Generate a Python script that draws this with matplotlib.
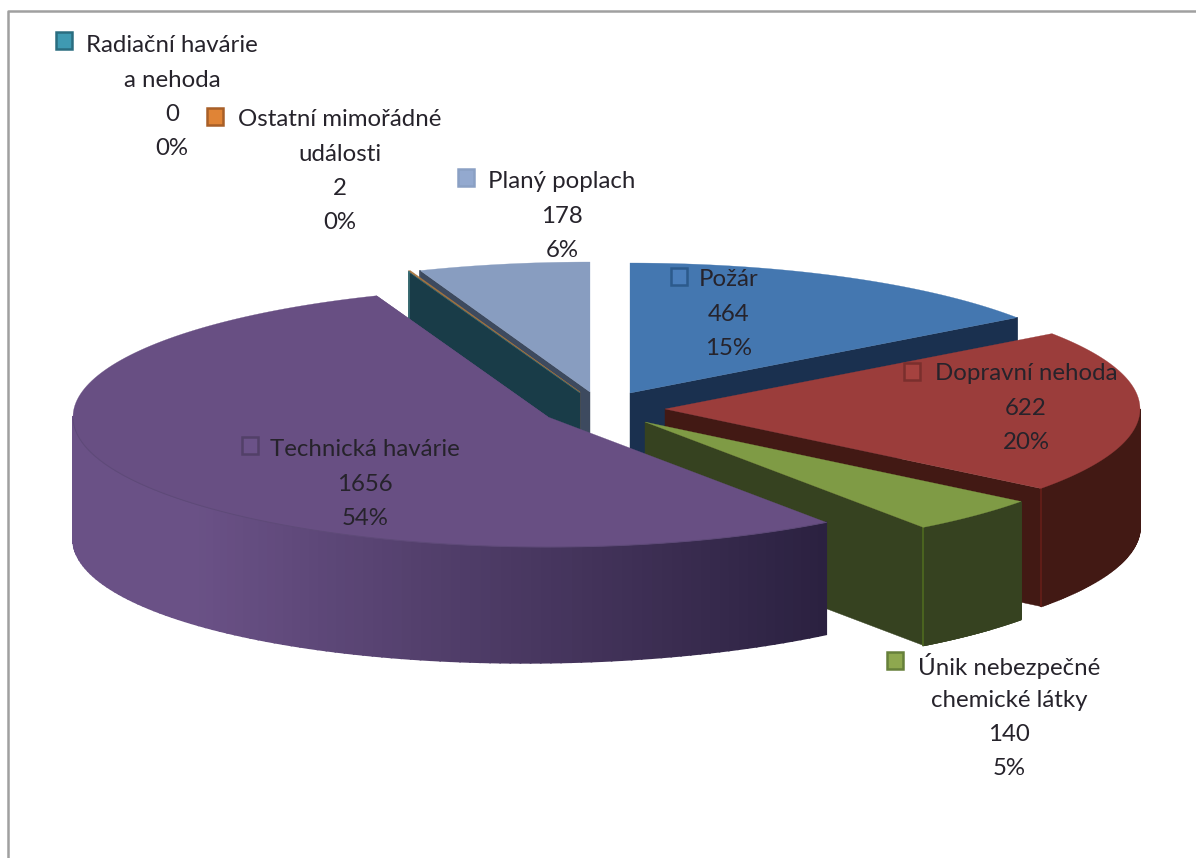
import numpy as np
import matplotlib
matplotlib.use('Agg')
import matplotlib.pyplot as plt
from matplotlib.colors import to_rgb
from matplotlib.patches import Rectangle

# data
names = ['Požár', 'Dopravní nehoda', 'Únik nebezpečné\nchemické látky', 'Technická havárie',
         'Radiační havárie\na nehoda', 'Ostatní mimořádné\nudálosti', 'Planý poplach']
values = [464, 622, 140, 1656, 0, 2, 178]

# slice styles, same order as values
top_colors = ['#4477b0', '#9b3d3b', '#7f9b45', '#684f83', '#3c93a8', '#a8763f', '#889dc0']
wall_colors = ['#1a304f', '#421914', '#364220', '#684f83', '#193c48', '#9a6a3a', '#3d4a5f']
seam_colors = ['#1a304f', '#651e18', '#4f6a1f', '#5a4672', '#3a7078', '#9a6a3a', '#3d4a5f']
key_colors = ['#4a7ebb', '#a5423f', '#8ea84f', '#6b5288', '#3f9ab2', '#e08436', '#93a9cf']
key_edges = ['#2c5a8c', '#7a2f2d', '#66803a', '#524068', '#2a6d80', '#a85f28', '#8aa0c4']
apex_x = [630, 665, 645, 548, 580, 580, 590]
apex_y = [393, 409, 422, 417, 393, 392, 392]
key_x = [671, 904, 887, 242, 56, 207, 458]
key_y = [268, 363, 652, 437, 32, 108, 169]
label_x = [729, 1026, 1009, 365, 172, 340, 562]
label_y = [280, 374, 666, 450, 46, 120, 182]

# painter's order, the back slices first
draw_order = [6, 5, 4, 0, 1, 2, 3]
# these show the cut face of their first edge, the others of their last one
first_edge = [4, 5, 6]

RX, RY, DEPTH = 475, 130, 118
LINE_STEP = 34.2
PURPLE_LEFT, PURPLE_RIGHT = to_rgb('#6a5186'), to_rgb('#2b2140')

plt.rcParams['font.family'] = ['Lato', 'DejaVu Sans']
fig = plt.figure(figsize=(11.96, 8.58), dpi=100)
ax = fig.add_axes([0, 0, 1, 1])
ax.set_xlim(0, 1196)
ax.set_ylim(858, 0)
ax.axis('off')

# chart frame, only the top and the left side show
ax.plot([8, 8, 1196], [858, 11, 11], color='#a0a0a0', lw=1.8, zorder=1)

total = sum(values)
ends = 90 - 360 * np.cumsum(values) / total
starts = np.r_[90, ends[:-1]]


def arc(i, n=160):
    t = np.radians(np.linspace(starts[i], ends[i], n))
    return apex_x[i] + RX * np.cos(t), apex_y[i] - RY * np.sin(t)


def purple_depth(x):
    # the big slice gets a bit shallower towards its right tip
    return 122 - (x - 72) * 10 / 755


z = 2
for i in draw_order:
    x, y = arc(i)
    e = 0 if i in first_edge else -1
    fx = [apex_x[i], x[e], x[e], apex_x[i]]
    fy = [apex_y[i], y[e], y[e] + DEPTH, apex_y[i] + DEPTH]
    ax.fill(fx, fy, color=wall_colors[i], lw=0.3, zorder=z)
    # outer wall, cut in strips so the purple one can carry its shading
    for k in range(len(x) - 1):
        if y[k] < apex_y[i] and y[k + 1] < apex_y[i]:
            continue
        col = wall_colors[i]
        d0, d1 = DEPTH, DEPTH
        if i == 3:
            s = np.clip((x[k] - 200) / 627, 0, 1)
            col = tuple(np.array(PURPLE_LEFT) * (1 - s) + np.array(PURPLE_RIGHT) * s)
            d0, d1 = purple_depth(x[k]), purple_depth(x[k + 1])
        ax.fill([x[k], x[k + 1], x[k + 1], x[k]], [y[k], y[k + 1], y[k + 1] + d1, y[k] + d0],
                color=col, lw=1.2, zorder=z)
    if i not in [3, 5]:
        ax.plot([x[e], x[e]], [y[e], y[e] + DEPTH], color=seam_colors[i], lw=1.2, zorder=z)
    # top face
    ax.fill(np.r_[apex_x[i], x], np.r_[apex_y[i], y], color=top_colors[i], lw=0.2, zorder=z + 0.5)
    if i == 3:
        front = y > apex_y[i]
        ax.plot(x[front], y[front], color='#5e4a78', lw=0.7, zorder=z + 0.6)
    z += 1

# data labels with their legend keys
for i in range(len(values)):
    ax.add_patch(Rectangle((key_x[i], key_y[i]), 16, 17, facecolor=key_colors[i], edgecolor=key_edges[i],
                           lw=1.8, zorder=30))
    pct = round(values[i] / total * 100)
    lines = names[i].split('\n') + [str(values[i]), f'{pct}%']
    for n, line in enumerate(lines):
        ax.text(label_x[i], label_y[i] + n * LINE_STEP, line, ha='center', va='center', fontsize=17.3,
                color='#26232b', zorder=31)

fig.savefig('out.png', dpi=100)
